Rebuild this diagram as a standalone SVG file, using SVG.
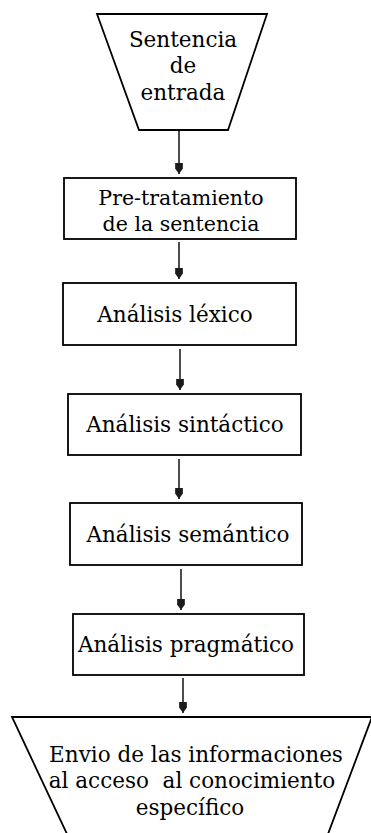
<svg xmlns="http://www.w3.org/2000/svg" width="371" height="833" viewBox="0 0 371 833">
  <defs>
    <style>
      .shape { fill: #ffffff; stroke: #000000; stroke-width: 1.8; }
      .open { fill: none; stroke: #000000; stroke-width: 1.8; }
      .lbl { font-family: "DejaVu Serif", "Liberation Serif", serif; font-size: 21.5px; fill: #000000; text-anchor: middle; white-space: pre; }
      .sm { font-size: 20.5px; }
      .conn { stroke: #000000; stroke-width: 1.4; fill: none; marker-end: url(#arrow); }
    </style>
    <marker id="arrow" markerUnits="userSpaceOnUse" markerWidth="11" markerHeight="8" refX="10" refY="3.5" orient="auto" viewBox="0 0 10 7">
      <path d="M0,0 L5,0 L10,3.5 L5,7 L0,7 Z" fill="#1a1a1a"/>
    </marker>
  </defs>

  <g id="connectors">
    <line class="conn" x1="179" y1="131" x2="179" y2="174"/>
    <line class="conn" x1="179" y1="242" x2="179" y2="279"/>
    <line class="conn" x1="180" y1="349" x2="180" y2="390"/>
    <line class="conn" x1="179" y1="459" x2="179" y2="499"/>
    <line class="conn" x1="181" y1="569" x2="181" y2="610"/>
    <line class="conn" x1="183" y1="678" x2="183" y2="713"/>
  </g>

  <g id="sentencia-entrada">
    <polygon class="shape" points="97,14 267,14 228,130 139,130"/>
    <text class="lbl" x="183" y="47">Sentencia</text>
    <text class="lbl" x="183" y="73">de</text>
    <text class="lbl" x="183" y="100">entrada</text>
  </g>

  <g id="pre-tratamiento">
    <rect class="shape" x="64" y="178" width="232" height="61"/>
    <text class="lbl sm" x="181" y="205">Pre-tratamiento</text>
    <text class="lbl sm" x="181" y="231">de la sentencia</text>
  </g>

  <g id="analisis-lexico">
    <rect class="shape" x="63" y="283" width="233" height="62"/>
    <text class="lbl" x="175" y="322">Análisis léxico</text>
  </g>

  <g id="analisis-sintactico">
    <rect class="shape" x="68" y="394" width="233" height="61"/>
    <text class="lbl" x="185" y="432">Análisis sintáctico</text>
  </g>

  <g id="analisis-semantico">
    <rect class="shape" x="70" y="503" width="232" height="62"/>
    <text class="lbl" x="188" y="542">Análisis semántico</text>
  </g>

  <g id="analisis-pragmatico">
    <rect class="shape" x="73" y="614" width="231" height="61"/>
    <text class="lbl" x="186" y="652">Análisis pragmático</text>
  </g>

  <g id="envio-informaciones">
    <path class="open" d="M67,834 L12,717 L372,717 M372,717 L328,834"/>
    <text class="lbl" x="196" y="762">Envio de las informaciones</text>
    <text class="lbl" x="192" y="788">al acceso  al conocimiento</text>
    <text class="lbl" x="190" y="815">específico</text>
  </g>
</svg>
